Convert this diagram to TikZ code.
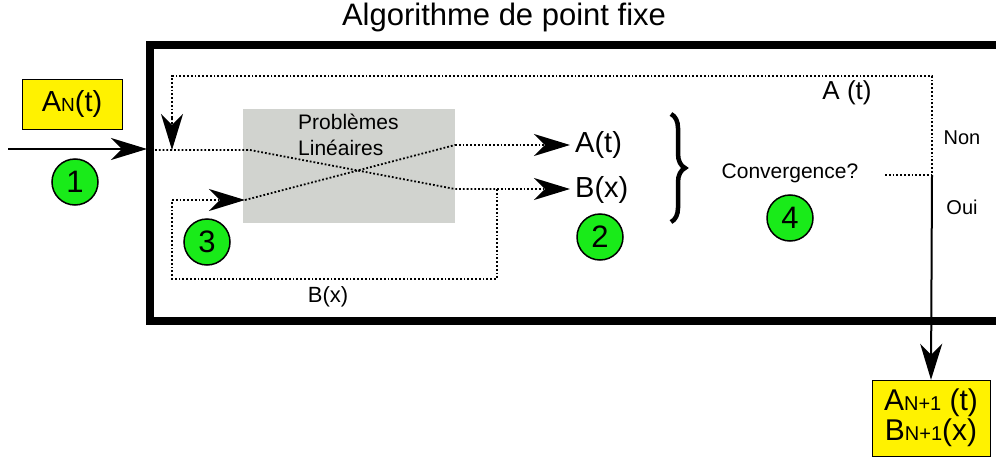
\documentclass[tikz,border=0pt]{standalone}
\usepackage{fontspec}
\setmainfont{Liberation Sans}
\usepackage{tikz}
\usetikzlibrary{positioning,arrows.meta,decorations.pathreplacing}
\usepackage{xcolor}

\definecolor{numgreen}{RGB}{25,235,25}
\definecolor{boxgray}{RGB}{209,211,207}
\newcommand{\fs}[1]{\fontsize{#1}{1.2\dimexpr#1pt\relax}\selectfont}

\tikzset{
  num/.style={line width=1.5pt,draw,circle,fill=numgreen,minimum size=46pt,inner sep=0pt,font=\fs{31}},
  ybox/.style={draw,fill=yellow,inner sep=0pt,align=center},
  flow/.style={dotted,line width=1.8pt},
  bighead/.style={-{Stealth[length=36pt,width=22pt,inset=11pt]}}
}

\begin{document}
\begin{tikzpicture}[x=1pt,y=-1pt]
        \useasboundingbox (0,0) rectangle (996,463);
        % frame
        \draw[line width=8pt] (1000,45) -- (150,45) -- (150,321) -- (1000,321);
        \node (title) at (504,17) {\fs{31}Algorithme de point fixe};

        \node[ybox,minimum width=100pt,minimum height=50pt] (an) at (72,104) {\fs{29}A{\fs{19}N}(t)};
        \node[num] (n1) at (75,182) {1};

        \node[fill=boxgray,minimum width=212pt,minimum height=114pt] (lin) at (349,166) {};
        \node[anchor=north west,align=left,inner sep=0pt,font=\fs{21}] (lintxt) at (298,114) {Problèmes\\[1pt]Linéaires};

        \node[anchor=west,inner sep=0pt] (at) at (575,145) {\fs{29}A(t)};
        \node[anchor=west,inner sep=0pt] (bx) at (575,190) {\fs{29}B(x)};
        \node[num] (n2) at (600,237) {2};
        \node[num] (n3) at (207,242) {3};
        \node[num] (n4) at (790,218) {4};

        \draw[line width=4.5pt,decorate,decoration={brace,amplitude=14pt}] (671,114) -- (671,222);
        \node (conv) at (790,173) {\fs{21}Convergence?};
        \node (alab) at (847,93) {\fs{26}A (t)};
        \node (non) at (962,138) {\fs{20}Non};
        \node (oui) at (962,207) {\fs{20}Oui};
        \node (blab) at (328,297) {\fs{22}B(x)};

        \node[ybox,minimum width=118pt,minimum height=76pt,font=\fs{30}] (out) at (931,418) {A{\fs{20}N+1} (t)\\[-6pt]B{\fs{20}N+1}(x)};

        \coordinate (src) at (8,149);
        \coordinate (entry) at (147,149);
        \coordinate (a0) at (155,150);
        \coordinate (a1) at (250,150);
        \coordinate (a2) at (455,189);
        \coordinate (btip) at (570,189);
        \coordinate (b0) at (497,189);
        \coordinate (b1) at (497,279);
        \coordinate (b2) at (172,279);
        \coordinate (b3) at (172,200);
        \coordinate (b4) at (245,200);
        \coordinate (b5) at (455,145);
        \coordinate (atip) at (570,145);
        \coordinate (c0) at (885,175);
        \coordinate (c1) at (932,175);
        \coordinate (c2) at (932,76);
        \coordinate (c3) at (172,76);
        \coordinate (c4) at (172,150);

        \draw[line width=2.5pt,bighead] (src) -- (entry);
        \draw[flow] (a0) -- (a1) -- (a2) -- (b0);
        \draw[flow,bighead] (b0) -- (btip);
        \draw[flow] (b0) -- (b1) -- (b2) -- (b3);
        \draw[flow,bighead] (b3) -- (b4);
        \draw[flow] (b4) -- (b5);
        \draw[flow,bighead] (b5) -- (atip);
        \draw[flow] (c0) -- (c1) -- (c2) -- (c3) -- ([yshift=30pt]c4);
        \draw[flow,bighead] ([yshift=32pt]c4) -- (c4);
        \draw[line width=2pt,bighead] (c1) -- (out.north);
    \end{tikzpicture}
\end{document}
